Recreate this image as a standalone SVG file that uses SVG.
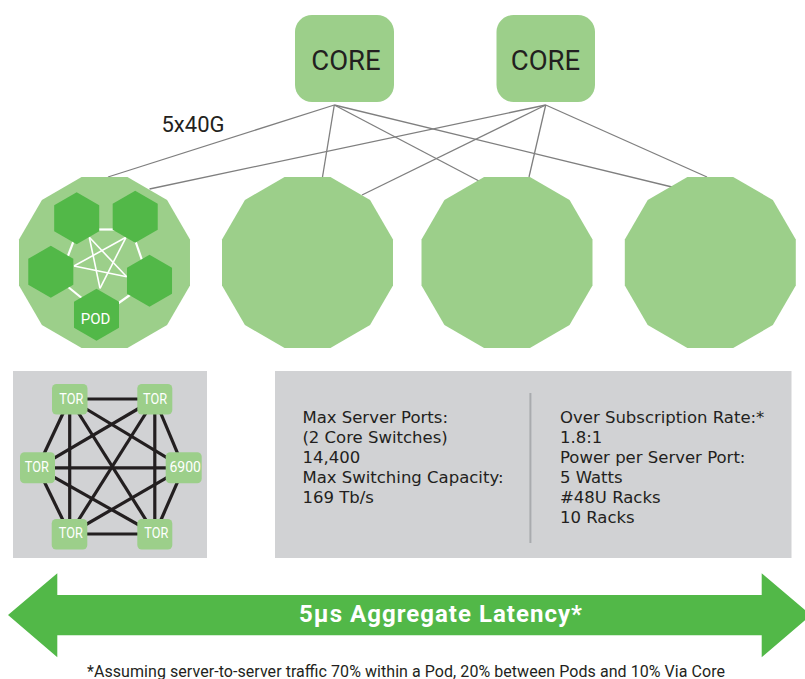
<svg xmlns="http://www.w3.org/2000/svg" xmlns:xlink="http://www.w3.org/1999/xlink" width="805" height="679" viewBox="0 0 805 679">
<style>
.lg{fill:#9ccf8a}
.dg{fill:#52b848}
.conn{stroke:#7f7f7f;stroke-width:1.3;fill:none}
.t{font-family:Roboto,"Liberation Sans",sans-serif;fill:#231f20}
.w{fill:#ffffff}
.tl{stroke:#231f20;stroke-width:3.2;fill:none}
.wl{stroke:#ffffff;stroke-width:1.6;fill:none}
.wp{stroke:#ffffff;stroke-width:2.2;fill:none}
.gray{fill:#d1d2d4}
.info{font-family:"DejaVu Sans",Roboto,sans-serif;font-size:16.5px}
</style>
<defs>
<polygon id="dodec" points="85.49,22.91 62.58,62.58 22.91,85.49 -22.91,85.49 -62.58,62.58 -85.49,22.91 -85.49,-22.91 -62.58,-62.58 -22.91,-85.49 22.91,-85.49 62.58,-62.58 85.49,-22.91"/>
<polygon id="hex" points="0,-26 22.52,-13 22.52,13 0,26 -22.52,13 -22.52,-13"/>
</defs>
<rect width="805" height="679" fill="#ffffff"/>

<g id="connectors">
<line class="conn" x1="334.3" y1="105" x2="108" y2="177"/>
<line class="conn" x1="334.3" y1="105" x2="322.5" y2="177"/>
<line class="conn" x1="334.3" y1="105" x2="479" y2="181"/>
<line class="conn" x1="334.3" y1="105" x2="672" y2="187"/>
<line class="conn" x1="545.7" y1="105" x2="149.5" y2="189"/>
<line class="conn" x1="545.7" y1="105" x2="362" y2="195"/>
<line class="conn" x1="545.7" y1="105" x2="529" y2="177"/>
<line class="conn" x1="545.7" y1="105" x2="707" y2="177"/>
</g>

<g id="core1">
<rect class="lg" x="295" y="15" width="99" height="87" rx="17"/>
<text class="t" x="346" y="69.5" font-size="27.5" text-anchor="middle">CORE</text>
</g>
<g id="core2">
<rect class="lg" x="496.5" y="15" width="98.5" height="87" rx="17"/>
<text class="t" x="545.5" y="69.5" font-size="27.5" text-anchor="middle">CORE</text>
</g>

<text id="link-label" class="t" x="161.5" y="132.3" font-size="22">5x40G</text>

<g id="pod1">
<use xlink:href="#dodec" href="#dodec" class="lg" x="104.5" y="262.5"/>
<g id="pod1-links">
<line class="wp" x1="90" y1="229.5" x2="120" y2="229.5"/>
<line class="wp" x1="75" y1="237.5" x2="66" y2="261"/>
<line class="wp" x1="134" y1="237" x2="144" y2="266"/>
<line class="wp" x1="62" y1="282" x2="86" y2="301.5"/>
<line class="wp" x1="113" y1="307" x2="137" y2="290"/>
<line class="wl" x1="89.3" y1="237.3" x2="100" y2="288.3"/>
<line class="wl" x1="89.3" y1="237.3" x2="126.7" y2="276.7"/>
<line class="wl" x1="126" y1="237.3" x2="74" y2="266"/>
<line class="wl" x1="126" y1="237.3" x2="100" y2="288.3"/>
<line class="wl" x1="74" y1="266" x2="126.7" y2="276.7"/>
</g>
<use xlink:href="#hex" href="#hex" class="dg" x="76.7" y="218.2"/>
<use xlink:href="#hex" href="#hex" class="dg" x="135.2" y="216.7"/>
<use xlink:href="#hex" href="#hex" class="dg" x="50.8" y="271.8"/>
<use xlink:href="#hex" href="#hex" class="dg" x="149.5" y="280.8"/>
<use xlink:href="#hex" href="#hex" class="dg" x="96.5" y="314.8"/>
<text class="t w" x="95.5" y="324.3" font-size="15" text-anchor="middle">POD</text>
</g>
<g id="pod2"><use xlink:href="#dodec" href="#dodec" class="lg" x="307.5" y="262.5"/></g>
<g id="pod3"><use xlink:href="#dodec" href="#dodec" class="lg" x="507" y="262.5"/></g>
<g id="pod4"><use xlink:href="#dodec" href="#dodec" class="lg" x="710.3" y="262.5"/></g>

<g id="tor-panel">
<rect class="gray" x="13" y="371" width="194" height="187"/>
<g id="tor-links">
<line class="tl" x1="69.7" y1="399" x2="154.8" y2="399"/>
<line class="tl" x1="69.7" y1="399" x2="37.5" y2="467.8"/>
<line class="tl" x1="69.7" y1="399" x2="183.7" y2="467.8"/>
<line class="tl" x1="69.7" y1="399" x2="69.7" y2="534"/>
<line class="tl" x1="69.7" y1="399" x2="154.8" y2="534"/>
<line class="tl" x1="154.8" y1="399" x2="37.5" y2="467.8"/>
<line class="tl" x1="154.8" y1="399" x2="183.7" y2="467.8"/>
<line class="tl" x1="154.8" y1="399" x2="69.7" y2="534"/>
<line class="tl" x1="154.8" y1="399" x2="154.8" y2="534"/>
<line class="tl" x1="37.5" y1="467.8" x2="183.7" y2="467.8"/>
<line class="tl" x1="37.5" y1="467.8" x2="69.7" y2="534"/>
<line class="tl" x1="37.5" y1="467.8" x2="154.8" y2="534"/>
<line class="tl" x1="183.7" y1="467.8" x2="69.7" y2="534"/>
<line class="tl" x1="183.7" y1="467.8" x2="154.8" y2="534"/>
<line class="tl" x1="69.7" y1="534" x2="154.8" y2="534"/>
</g>
<g id="tor-tl"><rect class="lg" x="52" y="384" width="35.5" height="30.5" rx="4.5"/><text class="t w" x="71.3" y="404.3" font-size="14.5" text-anchor="middle" textLength="24" lengthAdjust="spacingAndGlyphs">TOR</text></g>
<g id="tor-tr"><rect class="lg" x="137.3" y="384" width="35" height="30.5" rx="4.5"/><text class="t w" x="155" y="404.3" font-size="14.5" text-anchor="middle" textLength="24" lengthAdjust="spacingAndGlyphs">TOR</text></g>
<g id="tor-l"><rect class="lg" x="20" y="452.3" width="35" height="31" rx="4.5"/><text class="t w" x="36.8" y="471.7" font-size="14.5" text-anchor="middle" textLength="24" lengthAdjust="spacingAndGlyphs">TOR</text></g>
<g id="sw-6900"><rect class="lg" x="165.7" y="452.3" width="36" height="31" rx="4.5"/><text class="t w" x="185.2" y="471.7" font-size="14.5" text-anchor="middle" textLength="31.5" lengthAdjust="spacingAndGlyphs">6900</text></g>
<g id="tor-bl"><rect class="lg" x="51.7" y="519" width="35.6" height="30.5" rx="4.5"/><text class="t w" x="70.8" y="538.3" font-size="14.5" text-anchor="middle" textLength="24" lengthAdjust="spacingAndGlyphs">TOR</text></g>
<g id="tor-br"><rect class="lg" x="137.3" y="519" width="35" height="30.5" rx="4.5"/><text class="t w" x="156.3" y="538.3" font-size="14.5" text-anchor="middle" textLength="24" lengthAdjust="spacingAndGlyphs">TOR</text></g>
</g>

<g id="info-panel">
<rect class="gray" x="275" y="371" width="516.5" height="187"/>
<line x1="530.4" y1="393" x2="530.4" y2="543" stroke="#a9abae" stroke-width="2"/>
<text class="t info" x="302.4" y="423.3">
<tspan x="302.4" y="423.3">Max Server Ports:</tspan>
<tspan x="302.4" y="443.3">(2 Core Switches)</tspan>
<tspan x="302.4" y="463.3">14,400</tspan>
<tspan x="302.4" y="483.3">Max Switching Capacity:</tspan>
<tspan x="302.4" y="503.3">169 Tb/s</tspan>
</text>
<text class="t info" x="560" y="423.3">
<tspan x="560" y="423.3">Over Subscription Rate:*</tspan>
<tspan x="560" y="443.3">1.8:1</tspan>
<tspan x="560" y="463.3">Power per Server Port:</tspan>
<tspan x="560" y="483.3">5 Watts</tspan>
<tspan x="560" y="503.3">#48U Racks</tspan>
<tspan x="560" y="523.3">10 Racks</tspan>
</text>
</g>

<g id="latency-arrow">
<polygon class="dg" points="8,615 57.3,573.3 57.3,595 761.7,595 761.7,573.3 811,615 761.7,657.3 761.7,635.3 57.3,635.3 57.3,657.3"/>
<text class="t w" x="440.5" y="622.3" font-size="24" font-weight="bold" text-anchor="middle" textLength="283">5μs Aggregate Latency*</text>
</g>

<text id="footnote" class="t" x="406" y="676.5" font-size="16" text-anchor="middle" textLength="638">*Assuming server-to-server traffic 70% within a Pod, 20% between Pods and 10% Via Core</text>
</svg>
